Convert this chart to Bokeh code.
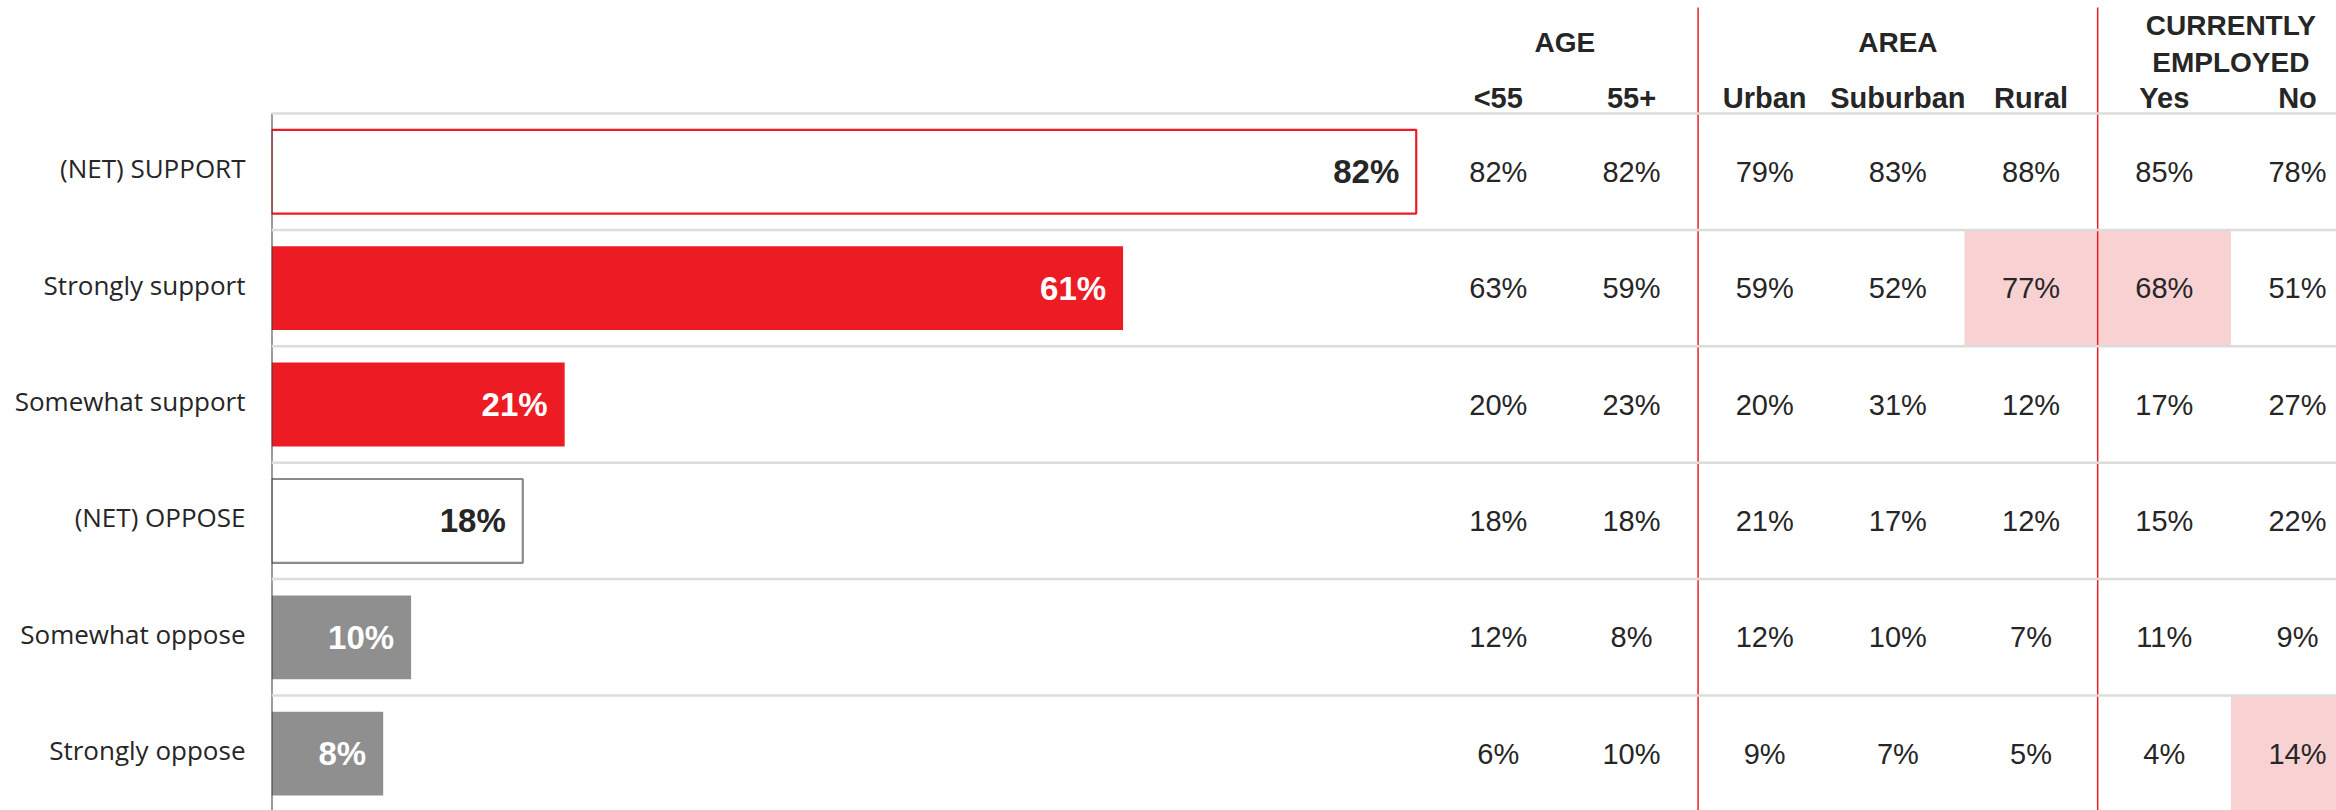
from bokeh.plotting import figure
from bokeh.models import Range1d, ColumnDataSource, Span, FixedTicker
from bokeh.embed import file_html
from bokeh.resources import INLINE

# ---------------- data ----------------
categories = ["(NET) SUPPORT", "Strongly support", "Somewhat support",
              "(NET) OPPOSE", "Somewhat oppose", "Strongly oppose"]
total = [82, 61, 21, 18, 10, 8]

column_labels = ["<55", "55+", "Urban", "Suburban", "Rural", "Yes", "No"]
under_55 = [82, 63, 20, 18, 12, 6]
age_55_plus = [82, 59, 23, 18, 8, 10]
urban = [79, 59, 20, 21, 12, 9]
suburban = [83, 52, 31, 17, 10, 7]
rural = [88, 77, 12, 12, 7, 5]
employed_yes = [85, 68, 17, 15, 11, 4]
employed_no = [78, 51, 27, 22, 9, 14]

group_labels = ["AGE", "AREA", "CURRENTLY\nEMPLOYED"]
group_spans = [(0, 1), (2, 4), (5, 6)]
# highlighted cells: (row index, column index)
highlights = [(1, 4), (1, 5), (5, 6)]

# ---------------- styles ----------------
RED = "#ED1C24"
GRAY = "#8F8F8F"
DARK = "#262626"
PINK = "#F8D2D3"
GRID = "#DCDCDC"

bar_fill = [None, RED, RED, None, GRAY, GRAY]
bar_line = [RED, None, None, "#8A8A8A", None, None]
label_color = [DARK, "white", "white", DARK, "white", "white"]

table_cols = [under_55, age_55_plus, urban, suburban, rural, employed_yes, employed_no]

p = figure(width=2336, height=810,
           x_range=Range1d(0, 147.92), y_range=Range1d(5.988, -0.971),
           x_axis_location=None, toolbar_location=None, output_backend="svg",
           min_border_left=271, min_border_right=0, min_border_top=0, min_border_bottom=0)
p.extra_x_ranges = {"table": Range1d(-9.21, 6.293)}
p.outline_line_color = None
p.xgrid.visible = False
p.ygrid.visible = False
p.background_fill_color = "white"
p.border_fill_color = "white"

label_pos = [i + 0.47 for i in range(len(categories))]
yax = p.yaxis[0]
yax.ticker = FixedTicker(ticks=label_pos)
yax.major_label_overrides = {t: c for t, c in zip(label_pos, categories)}
yax.axis_line_color = None
yax.major_tick_line_color = None
yax.minor_tick_line_color = None
yax.major_tick_in = 0
yax.major_tick_out = 0
yax.major_label_standoff = 26
yax.major_label_text_font = "Open Sans"
yax.major_label_text_font_size = "26px"
yax.major_label_text_color = DARK

rows = list(range(len(categories)))
row_mid = [r + 0.5 for r in rows]

# highlighted cells
p.quad(left=[c - 0.5 for r, c in highlights], right=[c + 0.5 for r, c in highlights],
       top=[r for r, c in highlights], bottom=[r + 1 for r, c in highlights],
       fill_color=PINK, line_color=None, x_range_name="table")

# row separators
for r in range(len(categories) + 1):
    p.add_layout(Span(location=r, dimension="width", line_color=GRID, line_width=2.5))

# group dividers
div_x = [b + 0.5 for a, b in group_spans[:-1]]
p.segment(x0=div_x, y0=[-0.91] * len(div_x), x1=div_x, y1=[len(categories)] * len(div_x),
          line_color=RED, line_width=1.5, x_range_name="table")

# bars
bar_src = ColumnDataSource(dict(y=row_mid, v=total, fill=bar_fill, line=bar_line,
                                lab=[f"{v}%" for v in total], lc=label_color))
p.hbar(y="y", left=0, right="v", height=0.72, source=bar_src,
       fill_color="fill", line_color="line", line_width=2.2)
p.text(x="v", y="y", text="lab", source=bar_src, text_align="right",
       text_baseline="middle", x_offset=-17, text_color="lc",
       text_font={"value": "Liberation Sans"}, text_font_size="33px",
       text_font_style="bold")

# axis line (only over the rows)
p.segment(x0=[0], y0=[0], x1=[0], y1=[len(categories)], line_color="#3A3A3A", line_width=2)

# table values
tx, ty, tt = [], [], []
for ci, col in enumerate(table_cols):
    for r, v in enumerate(col):
        tx.append(ci)
        ty.append(r + 0.5)
        tt.append(f"{v}%")
p.text(x=tx, y=ty, text=tt, x_range_name="table", text_align="center",
       text_baseline="middle", text_color=DARK,
       text_font={"value": "Liberation Sans"}, text_font_size="29px")

# column headers
p.text(x=list(range(len(column_labels))), y=[-0.137] * len(column_labels),
       text=column_labels, x_range_name="table", text_align="center",
       text_baseline="middle", text_color=DARK,
       text_font={"value": "Liberation Sans"}, text_font_size="29px",
       text_font_style="bold")

# group headers
gx, gy, gt = [], [], []
for lab, (a, b) in zip(group_labels, group_spans):
    lines = lab.split("\n")
    if len(lines) == 1:
        gx.append((a + b) / 2); gy.append(-0.61); gt.append(lines[0])
    else:
        gx += [(a + b) / 2] * 2; gy += [-0.756, -0.438]; gt += lines
p.text(x=gx, y=gy, text=gt, x_range_name="table", text_align="center",
       text_baseline="middle", text_color=DARK,
       text_font={"value": "Liberation Sans"}, text_font_size="28px",
       text_font_style="bold")

open("out.html", "w").write(file_html(p, INLINE))
